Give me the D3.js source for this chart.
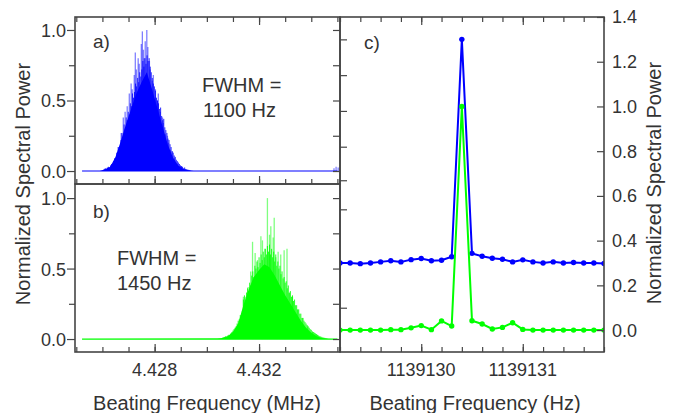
<!DOCTYPE html>
<html>
<head>
<meta charset="utf-8">
<script src="https://cdn.jsdelivr.net/npm/d3@7"></script>
<style>
  body { margin: 0; background: #fff; }
  text { font-family: "Liberation Sans", Arial, sans-serif; fill: #333; }
</style>
</head>
<body>
<svg id="chart" width="684" height="413"></svg>
<script>
// Panel a) envelope of the blue spectrum (MHz, normalized power)
const freqA = [4.42522, 4.4259, 4.4261, 4.4263, 4.4265, 4.4267, 4.4269, 4.4271, 4.4273, 4.4275,
  4.4277, 4.4279, 4.4281, 4.4283, 4.4285, 4.4287, 4.4289, 4.4291, 4.4293, 4.4295, 4.4350];
const envA = [0, 0, 0.012, 0.03, 0.10, 0.21, 0.33, 0.44, 0.55, 0.63,
  0.70, 0.58, 0.45, 0.32, 0.19, 0.095, 0.04, 0.015, 0.006, 0, 0];
// Panel a) dense bins, one every 0.00004 MHz from textureStartA
const textureStartA = 4.42607, textureStepA = 0.00004;
const textureA = [0.015, 0.02, 0.012, 0.025, 0.03, 0.02, 0.04, 0.05, 0.035, 0.07,
  0.09, 0.08, 0.13, 0.12, 0.17, 0.15, 0.22, 0.27, 0.24, 0.33,
  0.30, 0.38, 0.36, 0.42, 0.40, 0.48, 0.46, 0.55, 0.52, 0.56,
  0.62, 0.60, 0.66, 0.63, 0.70, 0.67, 0.72, 0.78, 0.74, 0.80,
  0.76, 0.82, 0.78, 0.80, 0.74, 0.70, 0.66, 0.62, 0.60, 0.57,
  0.52, 0.50, 0.48, 0.44, 0.45, 0.39, 0.36, 0.37, 0.31, 0.29,
  0.27, 0.23, 0.22, 0.19, 0.17, 0.14, 0.13, 0.11, 0.10, 0.08,
  0.07, 0.06, 0.05, 0.04, 0.035, 0.03, 0.02, 0.025, 0.015, 0.012,
  0.01, 0.008, 0.005];
// Panel a) tall spikes sticking out of the body
const spikeFreqA = [4.42660, 4.42672, 4.42680, 4.42687, 4.42695, 4.42703, 4.42710, 4.42714, 4.42722, 4.42726,
  4.42730, 4.42737, 4.42741, 4.42749, 4.42753, 4.42757, 4.42760, 4.42764, 4.42770, 4.42774,
  4.42780, 4.42783, 4.42791, 4.42795, 4.42803, 4.42810, 4.42814, 4.42822, 4.42830, 4.42833,
  4.42841, 4.42849, 4.42853, 4.42860, 4.42868, 4.42876, 4.42887, 4.42903, 4.43487, 4.43495, 4.43503];
const spikeA = [0.17, 0.27, 0.38, 0.42, 0.46, 0.55, 0.62, 0.58, 0.68, 0.84,
  0.72, 0.80, 0.76, 0.90, 0.99, 0.86, 0.80, 0.92, 1.00, 0.88,
  0.78, 0.72, 0.64, 0.68, 0.58, 0.50, 0.55, 0.42, 0.38, 0.34,
  0.26, 0.25, 0.20, 0.15, 0.14, 0.09, 0.05, 0.03, 0.02, 0.03, 0.025];

// Panel b) envelope of the green spectrum
const freqB = [4.42522, 4.4304, 4.4306, 4.4308, 4.4310, 4.4312, 4.4314, 4.4316, 4.4318, 4.4320,
  4.4322, 4.4324, 4.4326, 4.4328, 4.4330, 4.4332, 4.4334, 4.4336, 4.4338, 4.4340,
  4.4342, 4.4344, 4.4346, 4.4348, 4.4350];
const envB = [0, 0.003, 0.007, 0.02, 0.05, 0.11, 0.24, 0.35, 0.44, 0.49,
  0.53, 0.51, 0.45, 0.38, 0.31, 0.25, 0.19, 0.13, 0.08, 0.045,
  0.02, 0.008, 0.002, 0, 0];
const textureStartB = 4.43060, textureStepB = 0.00004;
const textureB = [0.01, 0.012, 0.015, 0.02, 0.018, 0.025, 0.03, 0.028, 0.04, 0.05,
  0.06, 0.07, 0.08, 0.09, 0.11, 0.13, 0.14, 0.17, 0.16, 0.20,
  0.28, 0.31, 0.27, 0.33, 0.36, 0.34, 0.40, 0.38, 0.45, 0.48,
  0.44, 0.52, 0.50, 0.55, 0.51, 0.58, 0.54, 0.60, 0.56, 0.62,
  0.58, 0.64, 0.60, 0.66, 0.62, 0.67, 0.60, 0.64, 0.58, 0.62,
  0.55, 0.60, 0.52, 0.55, 0.50, 0.52, 0.46, 0.48, 0.43, 0.44,
  0.40, 0.41, 0.36, 0.38, 0.33, 0.34, 0.30, 0.31, 0.27, 0.28,
  0.24, 0.24, 0.21, 0.21, 0.18, 0.18, 0.15, 0.15, 0.13, 0.12,
  0.11, 0.10, 0.09, 0.08, 0.07, 0.065, 0.055, 0.05, 0.045, 0.04,
  0.035, 0.03, 0.025, 0.02, 0.018, 0.015, 0.012, 0.01, 0.008, 0.006,
  0.004];
const spikeFreqB = [4.43140, 4.43149, 4.43158, 4.43168, 4.43175, 4.43185, 4.43194, 4.43207, 4.43213, 4.43222,
  4.43232, 4.43240, 4.43245, 4.43254, 4.43258, 4.43264, 4.43273, 4.43283, 4.43296, 4.43307,
  4.43315, 4.43328, 4.43348, 4.43367, 4.43386, 4.43405];
const spikeB = [0.30, 0.30, 0.37, 0.48, 0.69, 0.61, 0.56, 0.73, 0.70, 0.64,
  1.00, 0.74, 0.80, 0.72, 0.86, 0.58, 0.62, 0.60, 0.63, 0.64,
  0.325, 0.30, 0.21, 0.15, 0.09, 0.05];

// Panel c) beat note, 0.1 Hz bins
const freqC = [1139129.2, 1139129.3, 1139129.4, 1139129.5, 1139129.6, 1139129.7, 1139129.8, 1139129.9,
  1139130.0, 1139130.1, 1139130.2, 1139130.3, 1139130.4, 1139130.5, 1139130.6, 1139130.7, 1139130.8,
  1139130.9, 1139131.0, 1139131.1, 1139131.2, 1139131.3, 1139131.4, 1139131.5, 1139131.6, 1139131.7, 1139131.8];
const blueC = [0.30, 0.30, 0.297, 0.30, 0.305, 0.31, 0.305, 0.315, 0.32, 0.31, 0.312, 0.328, 1.30, 0.343,
  0.33, 0.321, 0.317, 0.305, 0.314, 0.305, 0.30, 0.305, 0.30, 0.302, 0.30, 0.30, 0.298];
const greenC = [0, 0, 0, 0, 0, 0.002, 0.002, 0.01, 0.02, 0.002, 0.041, 0.018, 1.0, 0.042,
  0.027, 0.005, 0.012, 0.033, 0.003, 0, 0, 0, 0, 0, 0, 0, 0];

// Tick labels
const xLabelsAB = [4.428, 4.432];
const yLabelsAB = [0, 0.5, 1.0];
const xLabelsC = [1139130, 1139131];
const yLabelsC = [0, 0.2, 0.4, 0.6, 0.8, 1.0, 1.2, 1.4];
const yInnerC = [1.3, 1.14, 0.98, 0.82, 0.67, 0.54, 0.1];

const BLUE = "#0000ff", GREEN = "#00ff00", FRAME = "#454545";

const svg = d3.select("#chart");

const xAB = d3.scaleLinear().domain([4.42495, 4.4351]).range([75, 340]);
const yA = d3.scaleLinear().domain([-0.092, 1.092]).range([184, 17]);
const yB = d3.scaleLinear().domain([-0.092, 1.10]).range([352, 184]);
const xC = d3.scaleLinear().domain([1139129.2, 1139131.8]).range([340, 604]);
const yC = d3.scaleLinear().domain([-0.098, 1.4]).range([352, 17]);

const defs = svg.append("defs");
function clip(id, x0, y0, x1, y1) {
  defs.append("clipPath").attr("id", id).append("rect")
    .attr("x", x0).attr("y", y0).attr("width", x1 - x0).attr("height", y1 - y0);
  return "url(#" + id + ")";
}

// draws a tick axis without domain line
function ticks(axis, pos, values, size, label) {
  const g = svg.append("g").attr("transform", pos)
    .call(axis.tickValues(values).tickSize(size).tickSizeOuter(0)
      .tickFormat(label ? label : ""));
  g.select(".domain").remove();
  g.selectAll(".tick line").attr("stroke", FRAME).attr("stroke-width", 1.2);
  g.selectAll(".tick text").attr("fill", "#333").style("font-size", "18px")
    .style("font-family", '"Liberation Sans", Arial, sans-serif');
  return g;
}

function sticks(g, y, pts, color, width, opacity) {
  g.selectAll(null).data(pts).enter().append("line")
    .attr("x1", d => xAB(d[0])).attr("x2", d => xAB(d[0]))
    .attr("y1", y(0)).attr("y2", d => y(d[1]))
    .attr("stroke", color).attr("stroke-width", width).attr("stroke-opacity", opacity);
}

// spectrum panels a) and b)
function spectrum(y, freq, env, tStart, tStep, texture, spikeFreq, spike, color, id, top, bottom) {
  const g = svg.append("g").attr("clip-path", clip(id, 75, top, 340, bottom));
  g.append("path")
    .datum(freq.map((f, i) => [f, env[i]]))
    .attr("fill", color)
    .attr("d", d3.area().x(d => xAB(d[0])).y0(y(0)).y1(d => y(d[1])));
  sticks(g, y, spikeFreq.map((f, i) => [f, spike[i]]), color, 1.3, 0.5);
  sticks(g, y, texture.map((v, i) => [tStart + i * tStep, v]), color, 1, 0.85);
  g.append("line")
    .attr("x1", xAB(freq[0])).attr("x2", xAB(freq[freq.length - 1]))
    .attr("y1", y(0)).attr("y2", y(0))
    .attr("stroke", color).attr("stroke-width", 1.2);
}

spectrum(yA, freqA, envA, textureStartA, textureStepA, textureA, spikeFreqA, spikeA, BLUE, "clipA", 17, 184);
spectrum(yB, freqB, envB, textureStartB, textureStepB, textureB, spikeFreqB, spikeB, GREEN, "clipB", 184, 352);

// panel c) lines and markers
const gc = svg.append("g").attr("clip-path", clip("clipC", 340, 17, 604, 352));
[[blueC, BLUE], [greenC, GREEN]].forEach(([vals, color]) => {
  const pts = freqC.map((f, i) => [f, vals[i]]);
  gc.append("path").datum(pts)
    .attr("fill", "none").attr("stroke", color).attr("stroke-width", 2)
    .attr("d", d3.line().x(d => xC(d[0])).y(d => yC(d[1])));
  gc.selectAll(null).data(pts).enter().append("circle")
    .attr("cx", d => xC(d[0])).attr("cy", d => yC(d[1])).attr("r", 2.7)
    .attr("fill", color);
});

// ticks, panels a) and b)
const minorAB = d3.range(4.425, 4.4355, 0.001);
const minorYAB = [0.25, 0.75];
ticks(d3.axisBottom(xAB), "translate(0,17)", minorAB, 5);
ticks(d3.axisBottom(xAB), "translate(0,17)", xLabelsAB, 8);
ticks(d3.axisTop(xAB), "translate(0,184)", minorAB, 5);
ticks(d3.axisTop(xAB), "translate(0,184)", xLabelsAB, 8);
ticks(d3.axisTop(xAB), "translate(0,352)", minorAB, 5);
ticks(d3.axisTop(xAB), "translate(0,352)", xLabelsAB, 8);
svg.selectAll(".xlabAB").data(xLabelsAB).enter().append("text")
  .attr("x", d => xAB(d)).attr("y", 376).attr("text-anchor", "middle")
  .style("font-size", "18px").text(d3.format(".3f"));

[yA, yB].forEach(y => {
  ticks(d3.axisLeft(y), "translate(75,0)", yLabelsAB, 8, d3.format(".1f"))
    .selectAll(".tick text").attr("x", -9).attr("dy", "0.36em");
  ticks(d3.axisLeft(y), "translate(75,0)", minorYAB, 6);
  ticks(d3.axisRight(y), "translate(340,0)", yLabelsAB.concat(minorYAB), -7);
});

// ticks, panel c)
const minorC = d3.range(1139129.2, 1139131.85, 0.2);
ticks(d3.axisBottom(xC), "translate(0,17)", minorC, 5);
ticks(d3.axisBottom(xC), "translate(0,17)", xLabelsC, 8);
ticks(d3.axisTop(xC), "translate(0,352)", minorC, 5);
ticks(d3.axisTop(xC), "translate(0,352)", xLabelsC, 8);
svg.selectAll(".xlabC").data(xLabelsC).enter().append("text")
  .attr("x", d => xC(d)).attr("y", 376).attr("text-anchor", "middle")
  .style("font-size", "18px").text(d => d);
ticks(d3.axisRight(yC), "translate(340,0)", yInnerC, 7);
ticks(d3.axisLeft(yC), "translate(604,0)", yLabelsC, 7);
svg.selectAll(".ylabC").data(yLabelsC).enter().append("text")
  .attr("x", 612).attr("y", d => yC(d)).attr("dy", "0.36em")
  .style("font-size", "18px").text(d3.format(".1f"));

// frames
[[75, 17, 340, 184], [75, 184, 340, 352], [340, 17, 604, 352]].forEach(([x0, y0, x1, y1]) => {
  svg.append("rect").attr("x", x0).attr("y", y0).attr("width", x1 - x0).attr("height", y1 - y0)
    .attr("fill", "none").attr("stroke", FRAME).attr("stroke-width", 1.6);
});

// panel texts
const notes = [
  ["a)", 93, 47.5, 19], ["b)", 93, 217.5, 19], ["c)", 364, 48.5, 19],
  ["FWHM =", 202, 92, 20], ["1100 Hz", 203, 117, 20],
  ["FWHM =", 117, 265, 20], ["1450 Hz", 117, 290, 20]
];
svg.selectAll(".note").data(notes).enter().append("text")
  .attr("x", d => d[1]).attr("y", d => d[2]).style("font-size", d => d[3] + "px")
  .text(d => d[0]);

// axis titles
svg.append("text").attr("x", 207).attr("y", 410).attr("text-anchor", "middle")
  .style("font-size", "20px").text("Beating Frequency (MHz)");
svg.append("text").attr("x", 475).attr("y", 410).attr("text-anchor", "middle")
  .style("font-size", "20px").text("Beating Frequency (Hz)");
svg.append("text").attr("transform", "translate(30,184) rotate(-90)").attr("text-anchor", "middle")
  .style("font-size", "20px").text("Normalized Spectral Power");
svg.append("text").attr("transform", "translate(661,183) rotate(-90)").attr("text-anchor", "middle")
  .style("font-size", "20px").text("Normalized Spectral Power");
</script>
</body>
</html>
